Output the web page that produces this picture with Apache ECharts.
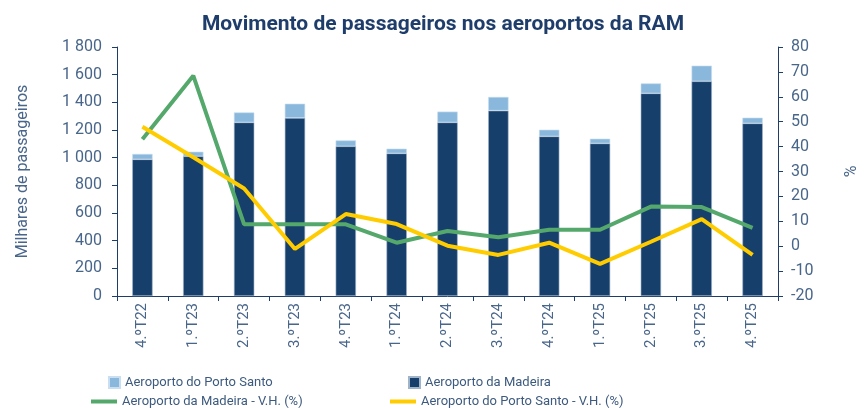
<!DOCTYPE html>
<html>
<head>
<meta charset="utf-8">
<script src="https://cdn.jsdelivr.net/npm/echarts@6/dist/echarts.min.js"></script>
<style>
  html, body { margin: 0; padding: 0; background: #fff; }
  #chart { width: 868px; height: 408px; }
</style>
</head>
<body>
<div id="chart"></div>
<script>
// trimestres
const quarters = ['4.ºT22', '1.ºT23', '2.ºT23', '3.ºT23', '4.ºT23', '1.ºT24', '2.ºT24',
                  '3.ºT24', '4.ºT24', '1.ºT25', '2.ºT25', '3.ºT25', '4.ºT25'];
// milhares de passageiros
const madeira = [988, 1010, 1255, 1287, 1082, 1031, 1255, 1340, 1154, 1103, 1465, 1552, 1248];
const portoSanto = [39, 33, 72, 103, 43, 34, 78, 99, 48, 34, 72, 113, 41];
// variação homóloga (%)
const madeiraVH = [43, 68.5, 8.8, 8.8, 8.8, 1.4, 6.1, 3.6, 6.6, 6.6, 15.9, 15.7, 7.4];
const portoSantoVH = [48, 35.7, 23.2, -1.1, 12.9, 8.9, 0.2, -3.5, 1.4, -7.1, 1.8, 10.9, -3.5];

const navy = '#173f6b';
const lightBlue = '#8ab8dc';
const green = '#55a86b';
const yellow = '#ffcc00';
const textCol = '#48658a';
const axisCol = '#1f3d6b';
const font = 'Roboto';

const chart = echarts.init(document.getElementById('chart'));

const legendText = { color: '#3d5a7e', fontFamily: font, fontSize: 13 };

const option = {
    animation: false,
    textStyle: { fontFamily: font },
    title: {
        text: 'Movimento de passageiros nos aeroportos da RAM',
        left: 438, top: 9, textAlign: 'center',
        textStyle: { color: axisCol, fontSize: 21, fontWeight: 'bold', fontFamily: font }
    },
    grid: { left: 117, right: 79, top: 47, bottom: 112 },
    legend: [
        { data: ['Aeroporto do Porto Santo'], left: 103, top: 371, icon: 'rect', itemWidth: 11, itemHeight: 11, itemGap: 4, textStyle: legendText },
        { data: ['Aeroporto da Madeira'], left: 403, top: 371, icon: 'rect', itemWidth: 11, itemHeight: 11, itemGap: 4, textStyle: legendText },
        { data: ['Aeroporto da Madeira - V.H. (%)'], left: 86, top: 390, icon: 'rect', itemWidth: 26, itemHeight: 4, itemGap: 5, textStyle: legendText },
        { data: ['Aeroporto do Porto Santo - V.H. (%)'], left: 385, top: 390, icon: 'rect', itemWidth: 26, itemHeight: 4, itemGap: 5, textStyle: legendText }
    ],
    xAxis: {
        type: 'category',
        data: quarters,
        axisLine: { lineStyle: { color: axisCol, width: 1 } },
        axisTick: { show: true, length: 5, lineStyle: { color: axisCol } },
        axisLabel: { rotate: 90, color: textCol, fontSize: 15, margin: 7, fontFamily: font }
    },
    yAxis: [
        {
            type: 'value', min: 0, max: 1800, interval: 200,
            name: 'Milhares de passageiros', nameLocation: 'middle', nameGap: 86,
            nameTextStyle: { color: textCol, fontSize: 16, fontFamily: font },
            axisLine: { show: true, lineStyle: { color: axisCol } },
            axisTick: { show: true, length: 5, lineStyle: { color: axisCol } },
            splitLine: { show: false },
            axisLabel: {
                color: textCol, fontSize: 16, margin: 15, fontFamily: font,
                formatter: v => String(v).replace(/\B(?=(\d{3})+(?!\d))/g, ' ')
            }
        },
        {
            type: 'value', min: -20, max: 80, interval: 10, position: 'right',
            name: '%', nameLocation: 'middle', nameGap: 66, nameRotate: 90,
            nameTextStyle: { color: textCol, fontSize: 16, fontFamily: font },
            axisLine: { show: true, lineStyle: { color: axisCol } },
            axisTick: { show: true, length: 5, lineStyle: { color: axisCol } },
            splitLine: { show: false },
            axisLabel: { color: textCol, fontSize: 16, margin: 13, fontFamily: font }
        }
    ],
    series: [
        {
            name: 'Aeroporto da Madeira', type: 'bar', stack: 'pax', barWidth: '40%',
            data: madeira,
            itemStyle: { color: navy, borderColor: '#9fb3c9', borderWidth: 0.6 }
        },
        {
            name: 'Aeroporto do Porto Santo', type: 'bar', stack: 'pax',
            data: portoSanto,
            itemStyle: { color: lightBlue, borderColor: '#c9def0', borderWidth: 0.6 }
        },
        {
            name: 'Aeroporto da Madeira - V.H. (%)', type: 'line', yAxisIndex: 1,
            data: madeiraVH, symbol: 'none',
            lineStyle: { color: green, width: 4 }, itemStyle: { color: green }
        },
        {
            name: 'Aeroporto do Porto Santo - V.H. (%)', type: 'line', yAxisIndex: 1,
            data: portoSantoVH, symbol: 'none',
            lineStyle: { color: yellow, width: 4 }, itemStyle: { color: yellow }
        }
    ]
};

chart.setOption(option);
</script>
</body>
</html>
